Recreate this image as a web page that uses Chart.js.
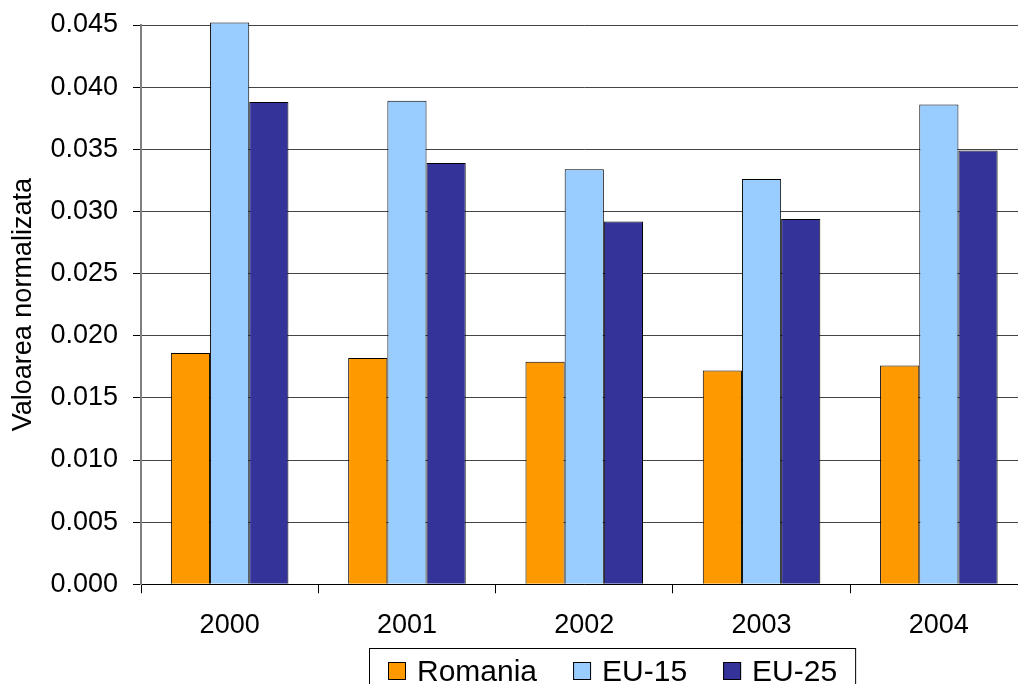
<!DOCTYPE html>
<html>
<head>
<meta charset="utf-8">
<script src="https://cdn.jsdelivr.net/npm/chart.js@4.4.1/dist/chart.umd.min.js"></script>
<style>
  html, body { margin: 0; padding: 0; background: #fff; overflow: hidden; }
  #wrap { width: 1018px; height: 684px; overflow: hidden; }
</style>
</head>
<body>
<div id="wrap"><canvas id="chart" width="1030" height="684"></canvas></div>
<script>
// data
var years = ["2000", "2001", "2002", "2003", "2004"];
var romania = [0.0186, 0.0182, 0.0179, 0.0172, 0.0176];
var eu15 = [0.0452, 0.0389, 0.0334, 0.0326, 0.0386];
var eu25 = [0.0388, 0.0339, 0.0292, 0.0294, 0.0349];
var seriesNames = ["Romania", "EU-15", "EU-25"];
var seriesColors = ["#ff9900", "#99ccff", "#333399"];
var yTitle = "Valoarea normalizata";

var FONT = '"Liberation Sans", Arial, sans-serif';

// legend with a frame, like the spreadsheet one
var boxLegend = {
  id: "boxLegend",
  afterDraw: function(chart) {
    var ctx = chart.ctx;
    var x = 388, top = 648, sw = 18;
    ctx.save();
    ctx.font = "30px " + FONT;
    ctx.textBaseline = "alphabetic";
    chart.data.datasets.forEach(function(ds, i) {
      ctx.fillStyle = ds.backgroundColor;
      ctx.fillRect(x, 662, sw, sw);
      ctx.strokeStyle = "#000";
      ctx.lineWidth = 1;
      ctx.strokeRect(x + 0.5, 662.5, sw - 1, sw - 1);
      ctx.fillStyle = "#000";
      ctx.fillText(ds.label, x + 29, 681);
      x += 29 + ctx.measureText(ds.label).width;
      if (i < chart.data.datasets.length - 1) x += 36;
    });
    ctx.strokeStyle = "#000";
    ctx.lineWidth = 1;
    ctx.strokeRect(369.5, top + 0.5, x + 18 - 369, 60);
    ctx.restore();
  }
};

var values = [romania, eu15, eu25];
var datasets = values.map(function(v, i) {
  return {
    label: seriesNames[i],
    data: v,
    backgroundColor: seriesColors[i],
    borderColor: "#000",
    borderWidth: 1,
    barPercentage: 1,
    categoryPercentage: 0.663,
    clip: false
  };
});

new Chart(document.getElementById("chart"), {
  type: "bar",
  data: { labels: years, datasets: datasets },
  options: {
    responsive: false,
    animation: false,
    layout: { padding: { left: 0, right: 2.5, top: 25, bottom: 39.7 } },
    plugins: {
      legend: { display: false },
      tooltip: { enabled: false }
    },
    scales: {
      x: {
        offset: true,
        grid: { display: true, drawOnChartArea: false, drawTicks: true, tickLength: 9, color: "#000", offset: true },
        border: { display: true, color: "#000", width: 1 },
        ticks: { color: "#000", font: { family: FONT, size: 27 }, padding: 16, maxRotation: 0 },
        afterFit: function(scale) { scale.height = 60; }
      },
      y: {
        min: 0,
        max: 0.045,
        ticks: {
          stepSize: 0.005,
          color: "#000",
          font: { family: FONT, size: 27 },
          padding: 15,
          callback: function(v) { return Number(v).toFixed(3); }
        },
        grid: { color: "#444", lineWidth: 1, drawTicks: true, tickLength: 8, tickColor: "#000" },
        border: { display: true, color: "#808080", width: 2 },
        title: {
          display: true,
          text: yTitle,
          color: "#000",
          font: { family: FONT, size: 27 },
          padding: { top: 7, bottom: 0 }
        },
        afterFit: function(scale) {
          scale.width = 141;
          scale.paddingTop = 0;
          scale.paddingBottom = 0;
        }
      }
    }
  },
  plugins: [boxLegend]
});
</script>
</body>
</html>
